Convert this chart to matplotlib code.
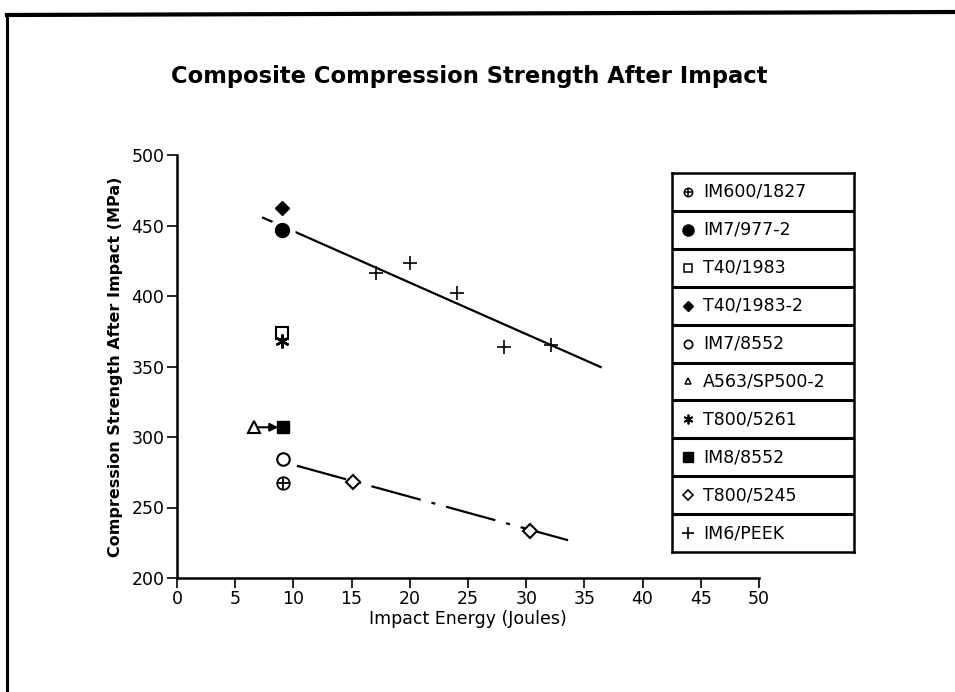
import matplotlib
matplotlib.use("Agg")
import matplotlib.pyplot as plt
from matplotlib.lines import Line2D

# data (impact energy in J, CAI strength in MPa)
im600_1827_x = [9.1]
im600_1827_y = [267.6]
im7_977_x = [9.0]
im7_977_y = [446.8]
t40_1983_x = [9.0]
t40_1983_y = [373.5]
t40_1983_2_x = [9.0]
t40_1983_2_y = [462.6]
im7_8552_x = [9.1]
im7_8552_y = [284.4]
a563_x = [6.6]
a563_y = [306.9]
t800_5261_x = [9.0]
t800_5261_y = [368.0]
im8_8552_x = [9.1]
im8_8552_y = [306.9]
t800_5245_x = [15.1, 30.3]
t800_5245_y = [268.3, 233.5]
im6_peek_x = [17.1, 20.0, 24.05, 28.1, 32.1]
im6_peek_y = [416.5, 423.2, 401.9, 363.6, 365.5]

# trend lines (end points)
fit_upper_x = [7.4, 36.4]
fit_upper_y = [455.5, 349.6]
fit_lower_x = [10.3, 33.6]
fit_lower_y = [279.6, 226.8]

legend_labels = ["IM600/1827", "IM7/977-2", "T40/1983", "T40/1983-2", "IM7/8552",
                 "A563/SP500-2", "T800/5261", "IM8/8552", "T800/5245", "IM6/PEEK"]

x_ticks = list(range(0, 51, 5))
y_ticks = list(range(200, 501, 50))

W, H = 955, 692
fig = plt.figure(figsize=(W / 100, H / 100), dpi=100)
fig.patch.set_facecolor("white")

ax = fig.add_axes([177 / W, 1 - 578 / H, (759 - 177) / W, (578 - 155) / H])
ax.set_xlim(0, 50)
ax.set_ylim(200, 500)
ax.set_xticks(x_ticks)
ax.set_yticks(y_ticks)
for side in ["top", "right"]:
    ax.spines[side].set_visible(False)
for side in ["left", "bottom"]:
    ax.spines[side].set_linewidth(1.8)
ax.tick_params(direction="out", length=7, width=1.2, labelsize=12.5, pad=2)

k = "black"
# trend lines
ax.plot(fit_upper_x, fit_upper_y, color=k, lw=1.6, zorder=2)
ax.plot(fit_lower_x, fit_lower_y, color=k, lw=1.6, dashes=(23, 5, 1.8, 5), zorder=2)

# markers
ms = 9
ax.plot(im600_1827_x, im600_1827_y, "o", ms=ms, mfc="white", mec=k, mew=1.3, zorder=3)
ax.plot(im600_1827_x, im600_1827_y, "+", ms=ms, mec=k, mew=1.3, zorder=4)
ax.plot(im7_977_x, im7_977_y, "o", ms=ms + 9, mfc="white", mec="white", zorder=3)
ax.plot(im7_977_x, im7_977_y, "o", ms=ms + 1, mfc=k, mec=k, zorder=4)
ax.plot(t40_1983_x, t40_1983_y, "s", ms=ms - 1, mfc="white", mec=k, mew=1.5, zorder=3)
ax.plot(t40_1983_2_x, t40_1983_2_y, "D", ms=ms - 2, mfc=k, mec=k, zorder=3)
ax.plot(im7_8552_x, im7_8552_y, "o", ms=ms, mfc="white", mec=k, mew=1.5, zorder=3)
ax.plot(a563_x, a563_y, "^", ms=ms - 1, mfc="white", mec=k, mew=1.5, zorder=3)
ax.plot(t800_5261_x, t800_5261_y, marker=(6, 2, 0), ls="none", ms=ms + 1, mec=k, mew=1.7, zorder=4)
ax.plot(im8_8552_x, im8_8552_y, "s", ms=ms - 1, mfc=k, mec=k, zorder=3)
ax.plot(t800_5245_x, t800_5245_y, "D", ms=ms - 2, mfc="white", mec=k, mew=1.5, zorder=3)
ax.plot(im6_peek_x, im6_peek_y, "+", ms=ms + 1, mec=k, mew=1.2, zorder=3)

# arrow from A563/SP500-2 to IM8/8552
ax.annotate("", xy=(im8_8552_x[0] - 0.4, im8_8552_y[0]), xytext=(a563_x[0] + 0.4, a563_y[0]),
            arrowprops=dict(arrowstyle="-|>", color=k, lw=1.5, mutation_scale=12,
                            shrinkA=0, shrinkB=0))

ax.set_xlabel("Impact Energy (Joules)", fontsize=12.5, labelpad=1)
ax.set_ylabel("Compression Strength After Impact (MPa)", fontsize=11.5, fontweight="bold",
              labelpad=6)

fig.text(469 / W, 1 - 77 / H, "Composite Compression Strength After Impact",
         ha="center", va="center", fontsize=16.3, fontweight="heavy")

# legend as a stack of boxed cells
lx0, lx1, ly0, ly1 = 672, 854, 173, 552
lax = fig.add_axes([lx0 / W, 1 - ly1 / H, (lx1 - lx0) / W, (ly1 - ly0) / H])
lax.set_xlim(0, 1)
lax.set_ylim(len(legend_labels), 0)
lax.set_xticks([])
lax.set_yticks([])
for sp in lax.spines.values():
    sp.set_linewidth(1.8)
for i in range(1, len(legend_labels)):
    lax.axhline(i, color=k, lw=2.2)

lms = 6
rows = [i + 0.5 for i in range(len(legend_labels))]
mx = [0.09]
lax.plot(mx, [rows[0]], "o", ms=lms, mfc="white", mec=k, mew=1.1)
lax.plot(mx, [rows[0]], "+", ms=lms, mec=k, mew=1.1)
lax.plot(mx, [rows[1]], "o", ms=lms + 2, mfc=k, mec=k)
lax.plot(mx, [rows[2]], "s", ms=lms, mfc="white", mec=k, mew=1.1)
lax.plot(mx, [rows[3]], "D", ms=lms - 1, mfc=k, mec=k)
lax.plot(mx, [rows[4]], "o", ms=lms, mfc="white", mec=k, mew=1.2)
lax.plot(mx, [rows[5]], "^", ms=lms - 1, mfc="white", mec=k, mew=1.1)
lax.plot(mx, [rows[6]], marker=(6, 2, 0), ls="none", ms=lms + 1, mec=k, mew=1.3)
lax.plot(mx, [rows[7]], "s", ms=lms + 1, mfc=k, mec=k)
lax.plot(mx, [rows[8]], "D", ms=lms - 1, mfc="white", mec=k, mew=1.2)
lax.plot(mx, [rows[9]], "+", ms=lms + 2, mec=k, mew=1.2)
for r, lab in zip(rows, legend_labels):
    lax.text(0.17, r, lab, ha="left", va="center", fontsize=12.5)

# page frame (top and left edges)
fig.add_artist(Line2D([7 / W, 1], [1 - 15 / H, 1 - 12 / H], color=k, lw=3))
fig.add_artist(Line2D([7 / W, 7 / W], [1 - 15 / H, 0], color=k, lw=2.2))

fig.savefig("out.png", dpi=100, facecolor="white")
